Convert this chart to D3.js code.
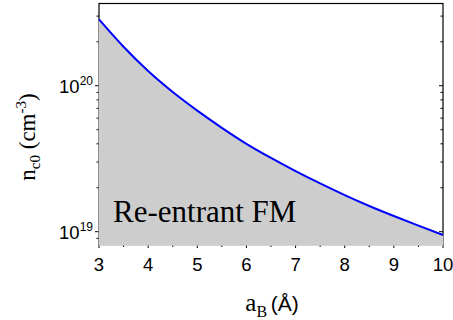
<!DOCTYPE html>
<html>
<head>
<meta charset="utf-8">
<script src="https://cdn.jsdelivr.net/npm/d3@7"></script>
<style>
  body { margin: 0; background: #fff; }
  svg { display: block; }
</style>
</head>
<body>
<svg id="chart" width="453" height="320"></svg>
<script>
// a_B (Angstrom) and the critical density n_c0 (cm^-3)
const aB = [3, 3.5, 4, 4.5, 5, 5.5, 6, 6.5, 7, 7.5, 8, 8.5, 9, 9.5, 10];
const nc0 = [2.85e20, 1.85e20, 1.26e20, 9.05e19, 6.75e19, 5.15e19, 4.0e19, 3.2e19,
             2.6e19, 2.14e19, 1.78e19, 1.5e19, 1.28e19, 1.1e19, 9.5e18];
const xTicks = [3, 4, 5, 6, 7, 8, 9, 10];
const yMajor = [19, 20];           // exponents of the labelled decades
const regionLabel = "Re-entrant FM";

const margin = { top: 3.5, right: 10, bottom: 75.5, left: 99 };
const width = 453 - margin.left - margin.right;
const height = 320 - margin.top - margin.bottom;

const svg = d3.select("#chart");
const g = svg.append("g").attr("transform", `translate(${margin.left},${margin.top})`);

const x = d3.scaleLinear().domain([3, 10]).range([0, width]);
const y = d3.scaleLog().domain([8.17e18, 3.66e20]).range([height, 0]);

// minor ticks for the log axis
const yMinor = [];
for (const e of [18, 19, 20]) {
  for (let m = 2; m <= 9; m++) {
    const v = m * Math.pow(10, e);
    if (v >= y.domain()[0] && v <= y.domain()[1]) yMinor.push(v);
  }
}
const xMinor = d3.range(3.5, 10, 1);

// frame
g.append("rect").attr("width", width).attr("height", height)
  .attr("fill", "none").attr("stroke", "#000").attr("stroke-width", 1.2);

// left ticks (outward)
g.selectAll(".ly").data(yMajor).join("line")
  .attr("x1", -4).attr("x2", 0)
  .attr("y1", d => y(Math.pow(10, d))).attr("y2", d => y(Math.pow(10, d)))
  .attr("stroke", "#000");
g.selectAll(".lym").data(yMinor).join("line")
  .attr("x1", -2.5).attr("x2", 0)
  .attr("y1", d => y(d)).attr("y2", d => y(d))
  .attr("stroke", "#000");

// right ticks (inward)
g.selectAll(".ry").data(yMajor).join("line")
  .attr("x1", width - 4).attr("x2", width)
  .attr("y1", d => y(Math.pow(10, d))).attr("y2", d => y(Math.pow(10, d)))
  .attr("stroke", "#000");
g.selectAll(".rym").data(yMinor).join("line")
  .attr("x1", width - 2.5).attr("x2", width)
  .attr("y1", d => y(d)).attr("y2", d => y(d))
  .attr("stroke", "#000");

// bottom ticks (outward)
g.selectAll(".bx").data(xTicks).join("line")
  .attr("x1", d => x(d)).attr("x2", d => x(d))
  .attr("y1", height).attr("y2", height + 3.5)
  .attr("stroke", "#000");
g.selectAll(".bxm").data(xMinor).join("line")
  .attr("x1", d => x(d)).attr("x2", d => x(d))
  .attr("y1", height).attr("y2", height + 2.5)
  .attr("stroke", "#000");

// shaded region under the curve, painted over the frame
const pts = aB.map((a, i) => [a, nc0[i]]);
const area = d3.area()
  .x(d => x(d[0])).y0(height + 0.8).y1(d => y(d[1]))
  .curve(d3.curveMonotoneX);
g.append("path").datum(pts).attr("d", area)
  .attr("fill", "#cdcdcd").attr("stroke", "#cdcdcd").attr("stroke-width", 0.8);

const line = d3.line().x(d => x(d[0])).y(d => y(d[1])).curve(d3.curveMonotoneX);
g.append("path").datum(pts).attr("d", line)
  .attr("fill", "none").attr("stroke", "#0000ff").attr("stroke-width", 2);

// x tick labels
g.selectAll(".xl").data(xTicks).join("text")
  .attr("x", d => x(d)).attr("y", height + 26)
  .attr("text-anchor", "middle")
  .attr("font-family", "'Liberation Sans', Arial, sans-serif").attr("font-size", 18.5)
  .text(d => d);

// y tick labels 10^e
const yl = g.selectAll(".yl").data(yMajor).join("text")
  .attr("x", -6).attr("y", d => y(Math.pow(10, d)) + 7)
  .attr("text-anchor", "end")
  .attr("font-family", "'Liberation Sans', Arial, sans-serif").attr("font-size", 18.5);
yl.append("tspan").text("10");
yl.append("tspan").attr("dy", -8).attr("font-size", 12).text(d => d);

// region label
g.append("text").attr("x", 14).attr("y", 218)
  .attr("font-family", "'Liberation Serif', 'Times New Roman', serif").attr("font-size", 31)
  .text(regionLabel);

// x axis title
const xt = svg.append("text")
  .attr("x", margin.left + width / 2 + 1).attr("y", 311)
  .attr("text-anchor", "middle")
  .attr("font-family", "'Liberation Serif', 'Times New Roman', serif").attr("font-size", 25);
xt.append("tspan").text("a");
xt.append("tspan").attr("dy", 6).attr("font-size", 16).text("B");
xt.append("tspan").attr("dy", -6).attr("font-size", 14).text(" ");
xt.append("tspan").attr("font-family", "'Liberation Sans', Arial, sans-serif").attr("font-size", 21).text("(Å)");

// y axis title
const yt = svg.append("text")
  .attr("transform", `translate(35,137) rotate(-90)`)
  .attr("text-anchor", "middle")
  .attr("font-family", "'Liberation Serif', 'Times New Roman', serif").attr("font-size", 23);
yt.append("tspan").text("n");
yt.append("tspan").attr("dy", 5).attr("font-size", 15).text("c0");
yt.append("tspan").attr("dy", -5).text(" (cm");
yt.append("tspan").attr("dy", -9).attr("font-size", 15).text("-3");
yt.append("tspan").attr("dy", 9).text(")");
</script>
</body>
</html>
